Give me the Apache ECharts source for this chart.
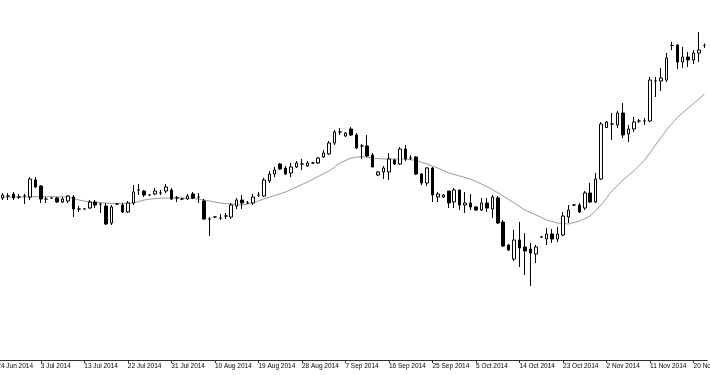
<!DOCTYPE html>
<html>
<head>
<meta charset="utf-8">
<script src="https://cdn.jsdelivr.net/npm/echarts@6/dist/echarts.min.js"></script>
<style>
html,body{margin:0;padding:0;background:#fff;}
#chart{width:710px;height:375px;}
</style>
</head>
<body>
<div id="chart"></div>
<script>
const dates = [
"24 Jun 2014","25 Jun 2014","26 Jun 2014","27 Jun 2014","29 Jun 2014","30 Jun 2014",
"1 Jul 2014","2 Jul 2014","3 Jul 2014","4 Jul 2014","6 Jul 2014","7 Jul 2014","8 Jul 2014","9 Jul 2014","10 Jul 2014","11 Jul 2014",
"13 Jul 2014","14 Jul 2014","15 Jul 2014","16 Jul 2014","17 Jul 2014","18 Jul 2014","20 Jul 2014","21 Jul 2014",
"22 Jul 2014","23 Jul 2014","24 Jul 2014","25 Jul 2014","27 Jul 2014","28 Jul 2014","29 Jul 2014","30 Jul 2014",
"31 Jul 2014","1 Aug 2014","3 Aug 2014","4 Aug 2014","5 Aug 2014","6 Aug 2014","7 Aug 2014","8 Aug 2014",
"10 Aug 2014","11 Aug 2014","12 Aug 2014","13 Aug 2014","14 Aug 2014","15 Aug 2014","17 Aug 2014","18 Aug 2014",
"19 Aug 2014","20 Aug 2014","21 Aug 2014","22 Aug 2014","24 Aug 2014","25 Aug 2014","26 Aug 2014","27 Aug 2014",
"28 Aug 2014","29 Aug 2014","31 Aug 2014","1 Sep 2014","2 Sep 2014","3 Sep 2014","4 Sep 2014","5 Sep 2014",
"7 Sep 2014","8 Sep 2014","9 Sep 2014","10 Sep 2014","11 Sep 2014","12 Sep 2014","14 Sep 2014","15 Sep 2014",
"16 Sep 2014","17 Sep 2014","18 Sep 2014","19 Sep 2014","21 Sep 2014","22 Sep 2014","23 Sep 2014","24 Sep 2014",
"25 Sep 2014","26 Sep 2014","28 Sep 2014","29 Sep 2014","30 Sep 2014","1 Oct 2014","2 Oct 2014","3 Oct 2014",
"5 Oct 2014","6 Oct 2014","7 Oct 2014","8 Oct 2014","9 Oct 2014","10 Oct 2014","12 Oct 2014","13 Oct 2014",
"14 Oct 2014","15 Oct 2014","16 Oct 2014","17 Oct 2014","19 Oct 2014","20 Oct 2014","21 Oct 2014","22 Oct 2014",
"23 Oct 2014","24 Oct 2014","26 Oct 2014","27 Oct 2014","28 Oct 2014","29 Oct 2014","30 Oct 2014","31 Oct 2014",
"2 Nov 2014","3 Nov 2014","4 Nov 2014","5 Nov 2014","6 Nov 2014","7 Nov 2014","9 Nov 2014","10 Nov 2014",
"11 Nov 2014","12 Nov 2014","13 Nov 2014","14 Nov 2014","16 Nov 2014","17 Nov 2014","18 Nov 2014","19 Nov 2014",
"20 Nov 2014","21 Nov 2014","23 Nov 2014"
];

const openP = [
164,162,164,166,163,164,163,180,174,161,162,162,158,159,163,151,151,152,158,156,154,137,156,155,148,157,170,169,165,166,167,169,
170,162,161,161,166,163,159,141,143,142,144,143,154,160,157,157,165,164,179,186,196,192,187,193,196,194,197,197,203,206,217,228,
224,231,225,214,214,205,185,188,188,200,196,211,202,203,186,177,192,163,163,169,158,170,155,157,153,150,157,151,162,138,115,101,
120,113,111,106,123,121,126,121,125,143,155,155,152,167,158,181,232.5,236,235,247,226,231,239,239,239,279,279,280,314.5,315,298,303,
300,307,314.5
];
const closeP = [
163,165,164,162,163,164,181,173,161,161,162,158,161,164,151,151,151,158,155,156,136,153,156,148,157,168,170,165,165,169,167,173,
161,162,161,164,162,163,141,141,143,142,144,155,160,157,157,163,165,180,186,190,191,186,193,197,196,197,197,202,207,217,228,228,
227,225,212,214,204,193,188,192,201,196,211,201,202,186,177,192,165,166,165,157,170,155,157,153,150,157,152,163,137,114,110,120,
112,109,107,113,123,126,121,126,144,150,155,148,167,158,181,236,238,236,247,225,231,238,239,239,280,279,282,302,314.5,298,303,300,
307,310,314.5
];
const lowP = [
162,160,160,160,161,156,160,172,157,157,161.5,157,157,157,143,148,150.5,151,152,147,135,135,155,147,147,155,165,163,164.5,165,165,167,
160,158,160,160,161,157,140,124,142,140,141,141,151,151,156,155,163,163,177,183,190,185,183,192,190,193,196.5,196,202,205,215,225,
223,224,211,201,203,193,184,181,180,195,195,199,200,185,175,174,158,158,162,152,152,150,147,150,149,149,148,142,136,113,109,99,
93,85,74,97,122,115,117,118,124,137,154,147,150,157,157,180,232,220,232,222,218,228,237,235,238,263,269,278,310,291,292,293,
296,298,312
];
const highP = [
165,167,167,168,166,166,183,183,175,163,162.5,163,163,165,165,154,151.5,160,160,157,157,155,156.5,157,159,175,176,170,165.5,172,170,176,
172,164,162,166,168,167,161,143,144,146,147,157,162,165,159,166,168,182,189,193,197,194,197,199,201,199,198,203,210,219,230,232,
228,233,227,216,225,207,189,194,207,201,213,215,205,204,187,193,193,168,166,169,172,170,168,166,154,162,162,165,164,140,116,130,
138,127,117,115,124,132,131,133,148,155,156,157,169,177,187,238,239,247,249,257,235,243,241,242,283,283,292,307,318,316,313,308,
310,328,316.5
];

const maValues = [];
const maRead = {
  1:163, 5:163, 9:163.5, 13:163, 15:160, 17:158, 21:156.5, 25:157, 27:160, 29:161.5, 33:162.5, 37:161,
  41:157, 45:155, 47:157, 49:161, 53:168, 57:178, 59:183.5, 61:189, 63:197, 65:202, 67:203.5, 69:202,
  71:201, 75:201, 77:199.5, 79:196, 81:192, 83:187, 85:184, 87:181, 89:176, 91:170.5, 93:164, 95:157,
  97:150, 99:145, 101:140, 103:137, 105:136, 107:139, 109:144, 111:155, 113:169, 115:180, 117:189,
  119:200, 121:215, 123:230, 125:242.5, 127:252, 129:261, 130:266
};
for (let i = 0; i < dates.length; i++) maValues.push(maRead[i] !== undefined ? maRead[i] : null);

const candles = dates.map((d, i) => [openP[i], closeP[i], lowP[i], highP[i]]);

const chart = echarts.init(document.getElementById('chart'), null, {renderer: 'canvas'});
const barStep = 5.44;
const gridLeft = -barStep;
const gridWidth = dates.length * barStep;
chart.setOption({
  animation: false,
  backgroundColor: '#ffffff',
  grid: {left: gridLeft, top: 0, width: gridWidth, height: 360, containLabel: false, outerBoundsMode: 'none'},
  xAxis: {
    type: 'category',
    data: dates,
    boundaryGap: true,
    axisLine: {show: true, lineStyle: {color: '#303030', width: 1}},
    axisTick: {show: true, interval: 7, alignWithLabel: true, length: 3, lineStyle: {color: '#303030'}},
    axisLabel: {interval: 7, align: 'left', margin: 3, fontSize: 6.5, fontFamily: 'Liberation Sans', color: '#000000', hideOverlap: false},
    splitLine: {show: false}
  },
  yAxis: {type: 'value', min: 0, max: 360, show: false, splitLine: {show: false}},
  series: [
    {
      type: 'line',
      data: maValues,
      connectNulls: true,
      showSymbol: false,
      symbol: 'none',
      z: 1,
      lineStyle: {color: '#9a9a9a', width: 1}
    },
    {
      type: 'candlestick',
      data: candles,
      barWidth: 3,
      z: 2,
      itemStyle: {color: '#ffffff', color0: '#000000', borderColor: '#000000', borderColor0: '#000000', borderWidth: 1}
    }
  ]
});
</script>
</body>
</html>
